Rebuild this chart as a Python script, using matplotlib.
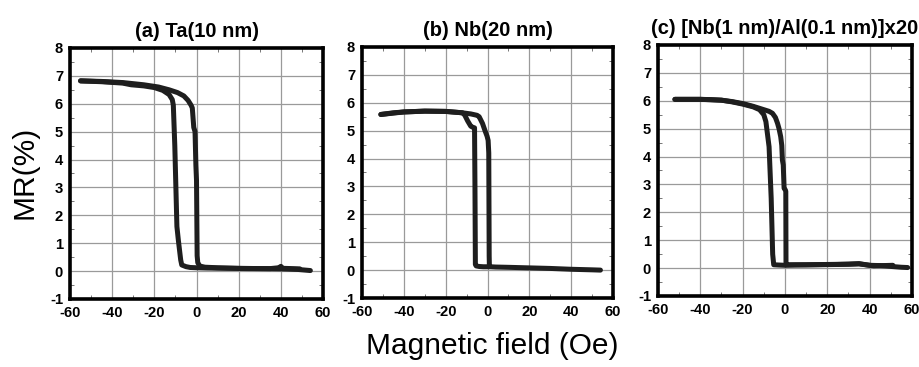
import matplotlib
matplotlib.use("Agg")
import matplotlib.pyplot as plt
from matplotlib.ticker import MultipleLocator

plt.rcParams['font.family'] = ['Liberation Sans', 'DejaVu Sans']
plt.rcParams['axes.unicode_minus'] = False

# (a) Ta(10 nm)
xa_out = [-55, -45, -35, -25, -18, -13, -9, -6, -4, -2.6, -2.0, -1.3, -0.7, -0.3, 0.0, 0.3, 0.6, 1.6, 4, 10, 20, 30, 40, 48, 54]
ya_out = [6.82, 6.80, 6.76, 6.68, 6.6, 6.5, 6.4, 6.28, 6.12, 5.95, 5.85, 5.15, 5.0, 3.8, 3.25, 0.55, 0.3, 0.18, 0.14, 0.12, 0.1, 0.09, 0.08, 0.06, 0.02]
xa_in = [-55, -45, -35, -31, -25, -20, -16, -13, -11.5, -11, -10.3, -9.3, -8.6, -7.5, -7, -5, -3, 0, 5, 15, 25, 35, 39, 40, 41, 49]
ya_in = [6.82, 6.79, 6.74, 6.68, 6.64, 6.58, 6.48, 6.33, 6.15, 5.95, 4.5, 1.6, 1.1, 0.4, 0.22, 0.16, 0.13, 0.12, 0.11, 0.1, 0.09, 0.09, 0.12, 0.17, 0.1, 0.08]

# (b) Nb(20 nm)
xb_out = [-51, -45, -40, -30, -20, -12, -8, -5, -4, -2.4, -1.2, -0.2, 0.3, 0.6, 0.8, 0.9, 1.5, 4, 10, 20, 30, 40, 50, 54]
yb_out = [5.58, 5.64, 5.67, 5.7, 5.69, 5.64, 5.6, 5.55, 5.5, 5.26, 5.0, 4.8, 4.65, 4.2, 0.5, 0.15, 0.12, 0.11, 0.1, 0.08, 0.06, 0.03, 0.01, 0.0]
xb_in = [-51, -40, -30, -20, -12, -10.9, -9.5, -8, -7, -6.2, -6.0, -5.8, -5.4, -4, -2, 0, 1.0]
yb_in = [5.58, 5.67, 5.7, 5.69, 5.64, 5.56, 5.35, 5.16, 5.12, 5.1, 3.0, 0.2, 0.15, 0.13, 0.12, 0.12, 0.12]

# (c) [Nb(1 nm)/Al(0.1 nm)]x20
xc_out = [-52, -45, -40, -35, -30, -25, -20, -15, -10, -7.5, -5.9, -4.5, -3.5, -2.8, -2.0, -1.5, -1.2, -0.8, -0.4, 0.2, 0.4, 0.5, 2, 10, 20, 30, 35, 40, 45, 50, 55, 58]
yc_out = [6.05, 6.05, 6.05, 6.04, 6.02, 5.97, 5.9, 5.8, 5.68, 5.62, 5.55, 5.4, 5.19, 5.0, 4.71, 4.4, 3.87, 3.7, 2.86, 2.8, 2.75, 0.12, 0.12, 0.12, 0.13, 0.14, 0.16, 0.1, 0.09, 0.06, 0.03, 0.02]
xc_in = [-52, -40, -30, -25, -20, -15, -12, -10, -9, -7.5, -6.5, -5.8, -5.3, -3, 0, 5, 15, 25, 35, 42, 51]
yc_in = [6.05, 6.05, 6.02, 5.96, 5.88, 5.78, 5.68, 5.5, 5.25, 4.35, 2.5, 0.5, 0.12, 0.11, 0.1, 0.11, 0.12, 0.13, 0.15, 0.08, 0.1]

titles = ['(a) Ta(10 nm)', '(b) Nb(20 nm)', '(c) [Nb(1 nm)/Al(0.1 nm)]x20']
curves = [(xa_out, ya_out, xa_in, ya_in),
          (xb_out, yb_out, xb_in, yb_in),
          (xc_out, yc_out, xc_in, yc_in)]

fig = plt.figure(figsize=(9.2, 3.67), dpi=100)
rects = [[0.0761, 0.1853, 0.275, 0.684],
         [0.3935, 0.188, 0.2728, 0.684],
         [0.7152, 0.1935, 0.276, 0.684]]

for rect, title, (x1, y1, x2, y2) in zip(rects, titles, curves):
    ax = fig.add_axes(rect)
    ax.plot(x1, y1, color='#1e1e1e', lw=3.6, solid_joinstyle='round', solid_capstyle='round')
    ax.plot(x2, y2, color='#1e1e1e', lw=3.6, solid_joinstyle='round', solid_capstyle='round')
    ax.set_xlim(-60, 60)
    ax.set_ylim(-1, 8)
    ax.xaxis.set_major_locator(MultipleLocator(20))
    ax.yaxis.set_major_locator(MultipleLocator(1))
    ax.xaxis.set_minor_locator(MultipleLocator(10))
    ax.yaxis.set_minor_locator(MultipleLocator(0.5))
    ax.set_axisbelow(True)
    ax.grid(True, which='major', color='#9a9a9a', lw=0.9)
    ax.tick_params(which='major', length=0, pad=5, labelsize=10.6)
    ax.tick_params(which='minor', direction='in', length=3, width=0.7, color='#777777',
                   top=True, right=True)
    for lab in ax.get_xticklabels() + ax.get_yticklabels():
        lab.set_fontweight('bold')
    for sp in ax.spines.values():
        sp.set_linewidth(2.6)
    ax.set_title(title, fontsize=14.5, fontweight='bold', pad=8)

fig.text(0.027, 0.53, 'MR(%)', rotation=90, ha='center', va='center', fontsize=21.5)
fig.text(0.535, 0.058, 'Magnetic field (Oe)', ha='center', va='center', fontsize=21.5)

fig.savefig('out.png', dpi=100)
